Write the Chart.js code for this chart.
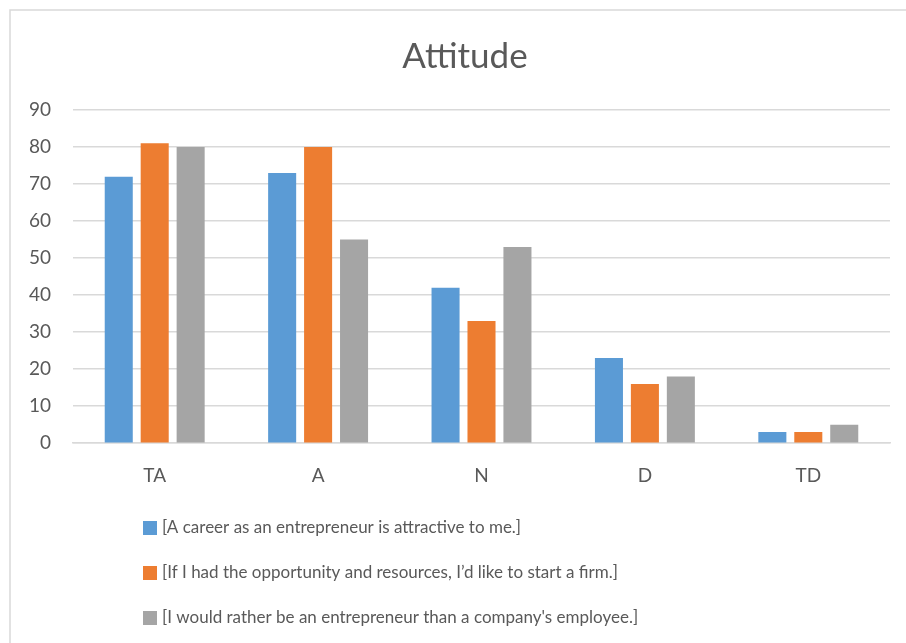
<!DOCTYPE html>
<html>
<head>
<meta charset="utf-8">
<script src="https://cdn.jsdelivr.net/npm/chart.js@4/dist/chart.umd.min.js"></script>
<style>
  html, body { margin: 0; padding: 0; background: #fff; }
  #wrap { width: 906px; height: 643px; }
</style>
</head>
<body>
<div id="wrap"><canvas id="attitude"></canvas></div>
<script>
var chartTitle = 'Attitude';
var categories = ['TA', 'A', 'N', 'D', 'TD'];
var seriesNames = [
    '[A career as an entrepreneur is attractive to me.]',
    '[If I had the opportunity and resources, I\u2019d like to start a firm.]',
    "[I would rather be an entrepreneur than a company's employee.]"
];
var attractive = [72, 73, 42, 23, 3];
var startFirm = [81, 80, 33, 16, 3];
var ratherEntrepreneur = [80, 55, 53, 18, 5];
var yTicks = [0, 10, 20, 30, 40, 50, 60, 70, 80, 90];

var colors = ['#5B9BD5', '#ED7D31', '#A5A5A5'];
var textColor = '#595959';
var fontFamily = 'Lato, "Open Sans", sans-serif';

// white background, light frame and the title centred on the frame
var frame = {
    id: 'frame',
    beforeDraw: function(chart){
        var ctx = chart.ctx;
        ctx.save();
        ctx.fillStyle = '#fff';
        ctx.fillRect(0, 0, chart.width, chart.height);
        ctx.strokeStyle = '#D9D9D9';
        ctx.lineWidth = 1.5;
        ctx.strokeRect(10, 10, chart.width + 20, chart.height + 20);
        ctx.fillStyle = textColor;
        ctx.font = '35px ' + fontFamily;
        ctx.textAlign = 'center';
        ctx.textBaseline = 'middle';
        ctx.fillText(chartTitle, 465, 57);
        ctx.restore();
    }
};

// one legend entry per line, stacked under the axis
var stackedLegend = {
    id: 'stackedLegend',
    afterDraw: function(chart){
        var ctx = chart.ctx;
        ctx.save();
        ctx.font = '17px ' + fontFamily;
        ctx.textBaseline = 'middle';
        chart.data.datasets.forEach(function(ds, i){
            var y = 528 + i * 45;
            ctx.fillStyle = ds.backgroundColor;
            ctx.fillRect(143, y - 7, 14, 14);
            ctx.fillStyle = textColor;
            ctx.fillText(ds.label, 162, y);
        });
        ctx.restore();
    }
};

var chartdata = {
    labels: categories,
    datasets: [
        { label: seriesNames[0], data: attractive, backgroundColor: colors[0] },
        { label: seriesNames[1], data: startFirm, backgroundColor: colors[1] },
        { label: seriesNames[2], data: ratherEntrepreneur, backgroundColor: colors[2] }
    ]
};

var ctx = document.getElementById('attitude');
var barGraph = new Chart(ctx, {
    type: 'bar',
    data: chartdata,
    plugins: [frame, stackedLegend],
    options: {
        responsive: true,
        maintainAspectRatio: false,
        animation: false,
        datasets: {
            bar: { barPercentage: 0.78, categoryPercentage: 0.66 }
        },
        layout: { padding: { left: 5, right: 16, top: 110, bottom: 135 } },
        plugins: {
            legend: { display: false },
            tooltip: { enabled: false },
            title: { display: false }
        },
        scales: {
            x: {
                grid: { display: false, drawTicks: false },
                border: { color: '#D9D9D9', width: 1.5 },
                ticks: { color: textColor, padding: 21, font: { family: fontFamily, size: 19 } }
            },
            y: {
                min: 0,
                max: 90,
                afterFit: function(scale){ scale.width = 68; },
                afterBuildTicks: function(scale){
                    scale.ticks = yTicks.map(function(v){ return { value: v }; });
                },
                grid: { color: '#D9D9D9', lineWidth: 1.5, drawTicks: false },
                border: { display: false },
                ticks: { color: textColor, padding: 22, font: { family: fontFamily, size: 19 } }
            }
        }
    }
});
</script>
</body>
</html>
